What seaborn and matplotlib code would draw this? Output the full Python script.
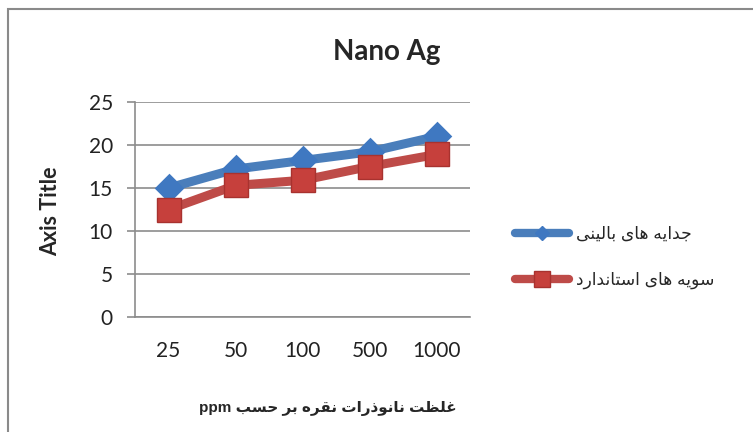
import matplotlib
matplotlib.use("Agg")
import matplotlib.pyplot as plt
from matplotlib.patches import Rectangle
from matplotlib.lines import Line2D
import seaborn as sns
import pandas as pd

# ---- data ----
categories = ["25", "50", "100", "500", "1000"]
clinical = [15.0, 17.2, 18.2, 19.2, 21.0]
standard = [12.5, 15.3, 15.9, 17.5, 18.9]
series_names = ["جدایه های بالینی", "سویه های استاندارد"]
title = "Nano Ag"
ylabel = "Axis Title"
xlabel_fa = "غلظت نانوذرات نقره بر حسب"
xlabel_unit = "ppm"
yticks = [0, 5, 10, 15, 20, 25]

# ---- minimal Arabic-script shaping (matplotlib has no shaping / bidi) ----
FORMS = {
    'ا': ('\uFE8D', '\uFE8E', None, None),
    'ب': ('\uFE8F', '\uFE90', '\uFE91', '\uFE92'),
    'ت': ('\uFE95', '\uFE96', '\uFE97', '\uFE98'),
    'ج': ('\uFE9D', '\uFE9E', '\uFE9F', '\uFEA0'),
    'ح': ('\uFEA1', '\uFEA2', '\uFEA3', '\uFEA4'),
    'د': ('\uFEA9', '\uFEAA', None, None),
    'ذ': ('\uFEAB', '\uFEAC', None, None),
    'ر': ('\uFEAD', '\uFEAE', None, None),
    'س': ('\uFEB1', '\uFEB2', '\uFEB3', '\uFEB4'),
    'ظ': ('\uFEC5', '\uFEC6', '\uFEC7', '\uFEC8'),
    'غ': ('\uFECD', '\uFECE', '\uFECF', '\uFED0'),
    'ق': ('\uFED5', '\uFED6', '\uFED7', '\uFED8'),
    'ل': ('\uFEDD', '\uFEDE', '\uFEDF', '\uFEE0'),
    'ن': ('\uFEE5', '\uFEE6', '\uFEE7', '\uFEE8'),
    'ه': ('\uFEE9', '\uFEEA', '\uFEEB', '\uFEEC'),
    'و': ('\uFEED', '\uFEEE', None, None),
    'ی': ('\uFBFC', '\uFBFD', '\uFBFE', '\uFBFF'),
}


def shape_rtl(text):
    chars = list(text)
    n = len(chars)
    out = []
    for i, c in enumerate(chars):
        if c not in FORMS:
            out.append(c)
            continue
        prev = chars[i - 1] if i > 0 else None
        nxt = chars[i + 1] if i < n - 1 else None
        join_prev = prev in FORMS and FORMS[prev][2] is not None
        join_next = nxt in FORMS and FORMS[c][2] is not None
        iso, fin, ini, med = FORMS[c]
        if join_prev and join_next:
            g = med
        elif join_prev:
            g = fin
        elif join_next:
            g = ini
        else:
            g = iso
        out.append(g)
    return ''.join(reversed(out))


sns.set_theme(style="white")
plt.rcParams['font.family'] = ['Liberation Sans', 'DejaVu Sans']

df = pd.DataFrame({
    "conc": categories * 2,
    "value": clinical + standard,
    "series": [series_names[0]] * 5 + [series_names[1]] * 5,
})

fig = plt.figure(figsize=(7.53, 4.32), dpi=100)
ax = fig.add_axes([135 / 753, 1 - 317 / 432, (470 - 135) / 753, (317 - 102) / 432])

blue_line, blue_mk = "#4A7EBB", "#3F78C1"
red_line, red_mk = "#BE4B48", "#C6403C"

sns.pointplot(data=df[df.series == series_names[0]], x="conc", y="value",
              order=categories, color=blue_line, marker="D", markersize=10.5,
              markerfacecolor=blue_mk, markeredgecolor=blue_mk,
              linewidth=6.5, ax=ax, errorbar=None, zorder=3)
sns.pointplot(data=df[df.series == series_names[1]], x="conc", y="value",
              order=categories, color=red_line, marker="s", markersize=17,
              markerfacecolor=red_mk, markeredgecolor="#A8322F", markeredgewidth=1,
              linewidth=6.5, ax=ax, errorbar=None, zorder=4)

ax.set_ylim(0, 25)
ax.set_yticks(yticks)
ax.set_xlim(-0.5, 4.5)
ax.yaxis.grid(True, color="#8C8C8C", linewidth=1.2)
ax.set_axisbelow(True)
for s in ["top", "right"]:
    ax.spines[s].set_visible(False)
for s in ["left", "bottom"]:
    ax.spines[s].set_color("#8C8C8C")
    ax.spines[s].set_linewidth(1.2)
ax.tick_params(axis="y", length=6, width=1.2, color="#8C8C8C", direction="out",
               pad=10, labelsize=15, left=True)
ax.tick_params(axis="x", length=0, pad=17, labelsize=15)
for lab in ax.get_xticklabels() + ax.get_yticklabels():
    lab.set_fontfamily("Lato")
    lab.set_color("#222222")
ax.set_xlabel("")
ax.set_ylabel("")
if ax.get_legend():
    ax.get_legend().remove()

fig.text(387 / 753, 1 - 52 / 432, title, ha="center", va="center",
         fontsize=20, fontweight="bold", family="Lato")
fig.text(51 / 753, 1 - 211 / 432, ylabel, ha="center", va="center",
         rotation=90, fontsize=15.5, fontweight="bold", family="Lato")
fig.text(328 / 753, 1 - 408 / 432, xlabel_unit + " " + shape_rtl(xlabel_fa),
         ha="center", va="center", fontsize=11, fontweight="bold",
         family=["Liberation Sans", "DejaVu Sans"])

handles = [
    Line2D([], [], color=blue_line, lw=6, marker="D", markersize=7.5,
           markerfacecolor=blue_mk, markeredgecolor=blue_mk, solid_capstyle="round"),
    Line2D([], [], color=red_line, lw=6, marker="s", markersize=12,
           markerfacecolor=red_mk, markeredgecolor="#A8322F", solid_capstyle="round"),
]
labels = [shape_rtl(s) for s in series_names]
fig.legend(handles, labels, loc="center left", bbox_to_anchor=(506 / 753, 1 - 258 / 432),
           frameon=False, fontsize=12.3, handlelength=3.2, labelspacing=1.75,
           handletextpad=0.4, borderpad=0)

fig.add_artist(Rectangle((8 / 753, -0.1), 1.2, 1.1 - 9 / 432 + 0.0,
                         transform=fig.transFigure, fill=False,
                         edgecolor="#8A8A8A", linewidth=1.5))

fig.savefig("out.png", dpi=100)
